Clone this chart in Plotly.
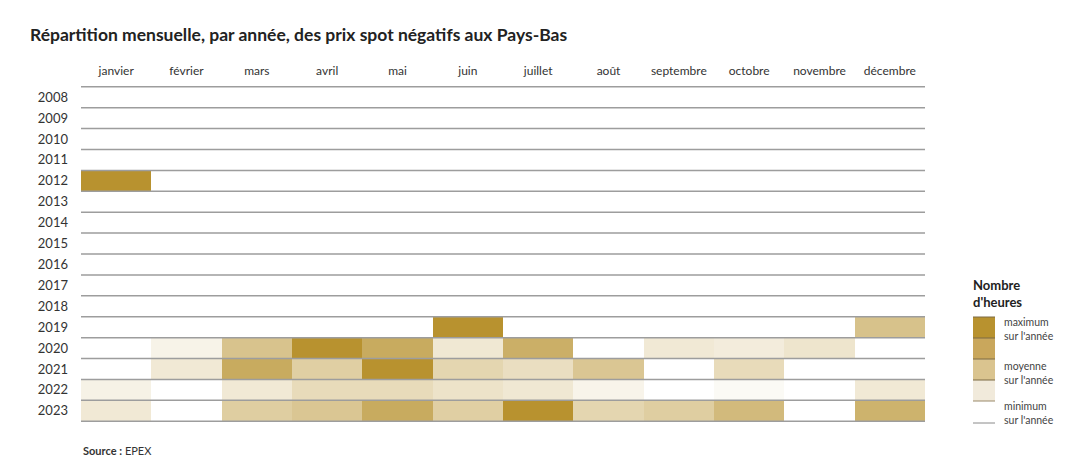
import plotly.graph_objects as go

months = ['janvier', 'février', 'mars', 'avril', 'mai', 'juin', 'juillet',
          'août', 'septembre', 'octobre', 'novembre', 'décembre']
years = list(range(2008, 2024))

# part du maximum annuel d'heures à prix négatif (0 = aucune heure, 1 = mois max)
empty = [0] * 12
share_2012 = [1.0, 0, 0, 0, 0, 0, 0, 0, 0, 0, 0, 0]
share_2019 = [0, 0, 0, 0, 0, 1.0, 0, 0, 0, 0, 0, 0.56]
share_2020 = [0, 0.11, 0.55, 1.0, 0.77, 0.21, 0.73, 0, 0.2, 0.17, 0.24, 0]
share_2021 = [0, 0.2, 0.77, 0.44, 1.0, 0.38, 0.3, 0.52, 0, 0.33, 0, 0]
share_2022 = [0.12, 0, 0.2, 0.33, 0.33, 0.26, 0.21, 0.1, 0, 0.05, 0, 0.2]
share_2023 = [0.2, 0, 0.45, 0.52, 0.77, 0.44, 1.0, 0.38, 0.45, 0.63, 0, 0.7]

z = [empty] * 4 + [share_2012] + [empty] * 6 + [share_2019, share_2020,
                                                 share_2021, share_2022, share_2023]

gold = '#b8922f'
legend_colors = ['#b8922f', '#c9a75c', '#dac48f', '#f1eadb']
legend_labels = ["maximum<br>sur l'année", "moyenne<br>sur l'année", "minimum<br>sur l'année"]

# la page ajoute ~8 px de marge : on décale tout d'autant
off = 8
PT, PH, PL, PW = 86, 336, 81, 844  # zone de tracé voulue (px)


def py(v):
    return 1 - (v - PT) / PH


def px(v):
    return (v - PL) / PW


fig = go.Figure()
fig.add_trace(go.Heatmap(
    x=list(range(12)), y=list(range(len(years))), z=z,
    zmin=0, zmax=1, colorscale=[[0, '#ffffff'], [1, gold]],
    showscale=False, hoverinfo='skip'))

# lignes horizontales entre les années
shapes = []
for i in range(len(years) + 1):
    shapes.append(dict(type='line', xref='x', yref='y', x0=-0.5, x1=11.5,
                       y0=i - 0.5, y1=i - 0.5, line=dict(color='#9d9d9d', width=1.5),
                       layer='above'))

# légende manuelle
lx0, lx1 = px(973), px(995)
edges = [317, 338, 359, 380, 401]
for k, c in enumerate(legend_colors):
    shapes.append(dict(type='rect', xref='paper', yref='paper', x0=lx0, x1=lx1,
                       y0=py(edges[k + 1]), y1=py(edges[k]), fillcolor=c,
                       line=dict(width=0), layer='above'))
for e in edges[:4]:
    shapes.append(dict(type='line', xref='paper', yref='paper', x0=lx0, x1=lx1,
                       y0=py(e), y1=py(e), line=dict(color='#7d6a45', width=1)))
shapes.append(dict(type='line', xref='paper', yref='paper', x0=lx0, x1=lx1,
                   y0=py(401), y1=py(401), line=dict(color='#9a8a6a', width=1)))
shapes.append(dict(type='line', xref='paper', yref='paper', x0=lx0, x1=lx1,
                   y0=py(423), y1=py(423), line=dict(color='#8a8a8a', width=1)))

annotations = [
    dict(text="<b>Nombre<br>d'heures</b>", xref='paper', yref='paper',
         x=lx0, y=py(293), xanchor='left', yanchor='middle', xshift=-2,
         align='left', showarrow=False, font=dict(size=13, color='#222')),
    dict(text='<b>Source :</b> EPEX', xref='paper', yref='paper', x=0.0,
         y=py(450), xanchor='left', yanchor='middle', showarrow=False,
         font=dict(size=11, color='#333')),
]
label_y = [329, 373, 413]
for lab, ly in zip(legend_labels, label_y):
    annotations.append(dict(text=lab, xref='paper', yref='paper', x=px(1002),
                            y=py(ly), xanchor='left', yanchor='middle',
                            align='left', showarrow=False,
                            font=dict(size=10.5, color='#444')))

fig.update_layout(
    width=1090, height=467,
    margin=dict(l=PL - off, r=1090 - (PL + PW) + off, t=PT - off, b=467 - (PT + PH) + off),
    paper_bgcolor='white', plot_bgcolor='white',
    font=dict(family='Lato', color='#333'),
    title=dict(text='<b>Répartition mensuelle, par année, des prix spot négatifs aux Pays-Bas</b>',
               x=(30 - off) / 1090, xanchor='left', y=1 - (35 - off) / 467, yanchor='middle',
               font=dict(size=17.5, color='#222')),
    xaxis=dict(side='top', tickmode='array', tickvals=list(range(12)), ticktext=months,
               showgrid=False, zeroline=False, showline=False, ticks='',
               ticklabelstandoff=8, tickfont=dict(size=12, color='#333'),
               range=[-0.5, 11.5], fixedrange=True),
    yaxis=dict(tickmode='array', tickvals=list(range(len(years))),
               ticktext=[str(y) for y in years], autorange='reversed',
               showgrid=False, zeroline=False, showline=False, ticks='',
               ticklabelstandoff=12, tickfont=dict(size=13, color='#333'),
               fixedrange=True),
    shapes=shapes, annotations=annotations,
)

fig.write_html('out.html')
